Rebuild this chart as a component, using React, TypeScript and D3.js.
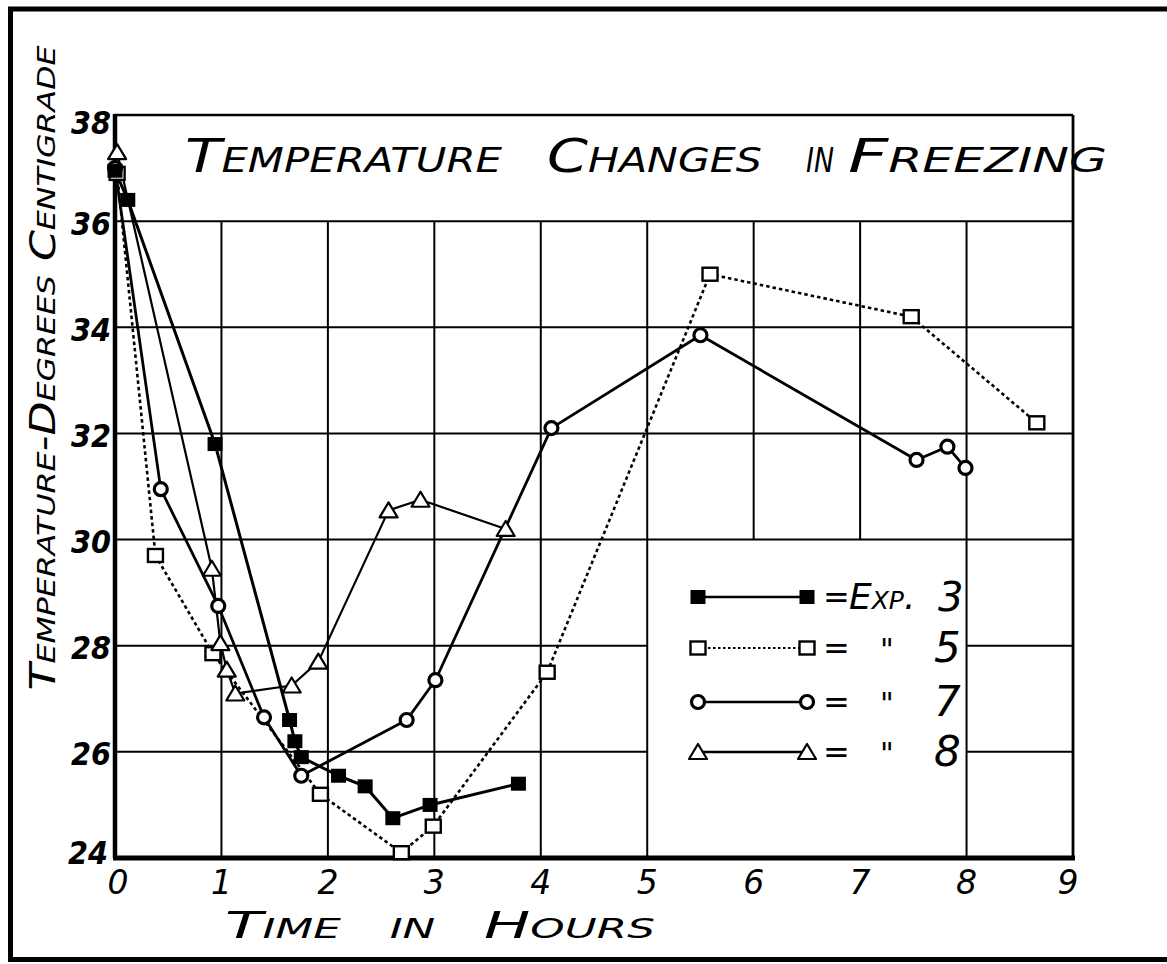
import React from 'react';
import * as d3 from 'd3';

// ---- data ----
const hourTicks = [0, 1, 2, 3, 4, 5, 6, 7, 8, 9];
const tempTicks = [24, 26, 28, 30, 32, 34, 36, 38];

const exp3Hours = [0, 0.12, 0.94, 1.64, 1.69, 1.75, 2.1, 2.35, 2.61, 2.96, 3.79];
const exp3Temps = [36.95, 36.4, 31.8, 26.6, 26.2, 25.9, 25.55, 25.35, 24.75, 25.0, 25.4];

const exp5Hours = [0.02, 0.38, 0.92, 1.93, 2.69, 2.99, 4.06, 5.59, 7.48, 8.66];
const exp5Temps = [36.9, 29.7, 27.85, 25.2, 24.1, 24.6, 27.5, 35.0, 34.2, 32.2];

const exp7Hours = [0, 0.43, 0.97, 1.4, 1.75, 2.74, 3.01, 4.1, 5.5, 7.53, 7.82, 7.99];
const exp7Temps = [37.0, 30.95, 28.75, 26.65, 25.55, 26.6, 27.35, 32.1, 33.85, 31.5, 31.75, 31.35];

const exp8Hours = [0.02, 0.91, 0.99, 1.05, 1.13, 1.66, 1.91, 2.57, 2.87, 3.67];
const exp8Temps = [37.3, 29.45, 28.05, 27.55, 27.1, 27.25, 27.7, 30.55, 30.75, 30.2];

const legendNumbers = ['3', '5', '7', '8'];
const titleWords = ['Temperature', 'Changes', 'in', 'Freezing'];
const yTitle = 'Temperature-Degrees Centigrade';
const xTitle = 'Time in Hours';

// ---- layout ----
const W = 1167;
const H = 964;
const FONT = "'DejaVu Sans', 'Liberation Sans', sans-serif";
const x = d3.scaleLinear().domain([0, 9]).range([115, 1073]);
const y = d3.scaleLinear().domain([24, 38]).range([858, 115]);

type Marker = 'filledSquare' | 'openSquare' | 'circle' | 'triangle';

const series: { hours: number[]; temps: number[]; marker: Marker; dash?: string; width: number }[] = [
  { hours: exp5Hours, temps: exp5Temps, marker: 'openSquare', dash: '3.5,3', width: 2.6 },
  { hours: exp8Hours, temps: exp8Temps, marker: 'triangle', width: 2.2 },
  { hours: exp7Hours, temps: exp7Temps, marker: 'circle', width: 2.8 },
  { hours: exp3Hours, temps: exp3Temps, marker: 'filledSquare', width: 3 },
];

function MarkerShape({ type, cx, cy }: { type: Marker; cx: number; cy: number }) {
  if (type === 'filledSquare')
    return <rect x={cx - 7.5} y={cy - 7} width={15} height={14} fill="#000" />;
  if (type === 'openSquare')
    return <rect x={cx - 7.5} y={cy - 6.5} width={15} height={13} fill="#fff" stroke="#000" strokeWidth={2.4} />;
  if (type === 'circle')
    return <circle cx={cx} cy={cy} r={6.5} fill="#fff" stroke="#000" strokeWidth={3.2} />;
  const w = 18, h = 14;
  return (
    <path
      d={`M${cx},${cy - h / 2 - 1}L${cx + w / 2},${cy + h / 2}L${cx - w / 2},${cy + h / 2}Z`}
      fill="#fff"
      stroke="#000"
      strokeWidth={2.2}
      strokeLinejoin="round"
    />
  );
}

export default function App() {
  const line = d3
    .line<[number, number]>()
    .x((d) => x(d[0]))
    .y((d) => y(d[1]));

  // grid
  const vLines = hourTicks.filter((h) => h > 0 && h < 9).map((h) => ({
    x: x(h),
    y1: y(36),
    y2: h === 6 || h === 7 ? y(30) : y(24),
  }));
  const hLines: { y: number; x1: number; x2: number }[] = [];
  tempTicks.filter((t) => t > 24 && t < 38).forEach((t) => {
    if (t >= 30) hLines.push({ y: y(t), x1: x(0), x2: x(9) });
    else {
      hLines.push({ y: y(t), x1: x(0), x2: x(5) });
      hLines.push({ y: y(t), x1: x(8), x2: x(9) });
    }
  });

  const titleSpans = [
    [185, 502],
    [547, 762],
    [806, 834],
    [848, 1107],
  ];

  const legendMarkers: Marker[] = ['filledSquare', 'openSquare', 'circle', 'triangle'];
  const legendRowsY = [597, 648, 702, 752];
  const legendX1 = 698;
  const legendX2 = 807;

  return (
    <svg
      width={W}
      height={H}
      viewBox={`0 0 ${W} ${H}`}
      style={{ position: 'absolute', left: 0, top: 0, background: '#fff' }}
      fontFamily={FONT}
    >
      <rect x={0} y={0} width={W} height={H} fill="#fff" />
      {/* outer frame */}
      <path d={`M${W + 5},9 H10.5 V959.5 H${W + 5}`} fill="none" stroke="#000" strokeWidth={5} />

      {/* grid */}
      {vLines.map((l, i) => (
        <line key={'v' + i} x1={l.x} x2={l.x} y1={l.y1} y2={l.y2} stroke="#000" strokeWidth={2} />
      ))}
      {hLines.map((l, i) => (
        <line key={'h' + i} x1={l.x1} x2={l.x2} y1={l.y} y2={l.y} stroke="#000" strokeWidth={2} />
      ))}
      {/* plot border */}
      <line x1={x(0)} x2={x(9)} y1={y(38)} y2={y(38)} stroke="#000" strokeWidth={2.6} />
      <line x1={x(9)} x2={x(9)} y1={y(38)} y2={y(24)} stroke="#000" strokeWidth={2.8} />
      <line x1={x(0)} x2={x(0)} y1={y(38) - 1} y2={y(24)} stroke="#000" strokeWidth={4.5} />
      <line x1={x(0) - 2} x2={x(9) + 2} y1={y(24)} y2={y(24)} stroke="#000" strokeWidth={5} />

      {/* title */}
      {titleWords.map((w, i) => (
        <text
          key={w}
          x={titleSpans[i][0]}
          y={172}
          fontSize={47}
          fontStyle="italic"
          style={{ fontVariant: 'small-caps' }}
          textLength={titleSpans[i][1] - titleSpans[i][0]}
          lengthAdjust="spacingAndGlyphs"
          fill="#000"
        >
          {w}
        </text>
      ))}

      {/* y ticks */}
      {tempTicks.map((t) => (
        <text
          key={t}
          x={t === 24 ? 108 : 111}
          y={y(t) + (t === 38 ? 7 : t === 24 ? -6 : 2)}
          dy="0.36em"
          textAnchor="end"
          fontSize={32}
          fontWeight="bold"
          fontStyle="italic"
          textLength={40}
          lengthAdjust="spacingAndGlyphs"
          fill="#000"
        >
          {t}
        </text>
      ))}
      {/* x ticks */}
      {hourTicks.map((h) => (
        <text
          key={h}
          x={x(h) - (h === 9 ? 5 : 0) + (h === 0 ? 3 : 0)}
          y={882}
          dy="0.36em"
          textAnchor="middle"
          fontSize={33}
          fontStyle="italic"
          fill="#000"
        >
          {h}
        </text>
      ))}

      {/* axis titles */}
      <text
        transform={`translate(55,368) rotate(-90)`}
        textAnchor="middle"
        fontSize={35}
        fontStyle="italic"
        style={{ fontVariant: 'small-caps' }}
        textLength={645}
        lengthAdjust="spacingAndGlyphs"
        fill="#000"
      >
        {yTitle}
      </text>
      <text
        x={225}
        y={938}
        fontSize={38}
        fontStyle="italic"
        style={{ fontVariant: 'small-caps', wordSpacing: '18px' }}
        textLength={430}
        lengthAdjust="spacingAndGlyphs"
        fill="#000"
      >
        {xTitle}
      </text>

      {/* series lines */}
      {series.map((s, i) => (
        <path
          key={'l' + i}
          d={line(s.hours.map((h, j) => [h, s.temps[j]] as [number, number])) || ''}
          fill="none"
          stroke="#000"
          strokeWidth={s.width}
          strokeDasharray={s.dash}
          strokeLinejoin="round"
        />
      ))}
      {/* markers */}
      {series.map((s, i) =>
        s.hours.map((h, j) => (
          <MarkerShape key={`m${i}-${j}`} type={s.marker} cx={x(h)} cy={y(s.temps[j])} />
        ))
      )}

      {/* legend */}
      {legendNumbers.map((n, i) => {
        const ly = legendRowsY[i];
        const m = legendMarkers[i];
        return (
          <g key={'lg' + n}>
            <line
              x1={legendX1}
              x2={legendX2}
              y1={ly}
              y2={ly}
              stroke="#000"
              strokeWidth={i === 1 ? 2 : 2.4}
              strokeDasharray={i === 1 ? '2.5,2.5' : undefined}
            />
            <MarkerShape type={m} cx={legendX1} cy={ly} />
            <MarkerShape type={m} cx={legendX2} cy={ly} />
            <text x={823} y={ly + 11} fontSize={32} fill="#000">=</text>
            {i === 0 ? (
              <>
                <text
                  x={849}
                  y={ly + 12}
                  fontSize={36}
                  fontStyle="italic"
                  style={{ fontVariant: 'small-caps' }}
                  fill="#000"
                >
                  Exp.
                </text>
                <text x={938} y={ly + 14} fontSize={40} fontStyle="italic" fill="#000">
                  {n}
                </text>
              </>
            ) : (
              <>
                <text x={880} y={ly + 12} fontSize={30} fill="#000">"</text>
                <text x={934} y={ly + 14} fontSize={42} fontStyle="italic" fill="#000">
                  {n}
                </text>
              </>
            )}
          </g>
        );
      })}
    </svg>
  );
}
